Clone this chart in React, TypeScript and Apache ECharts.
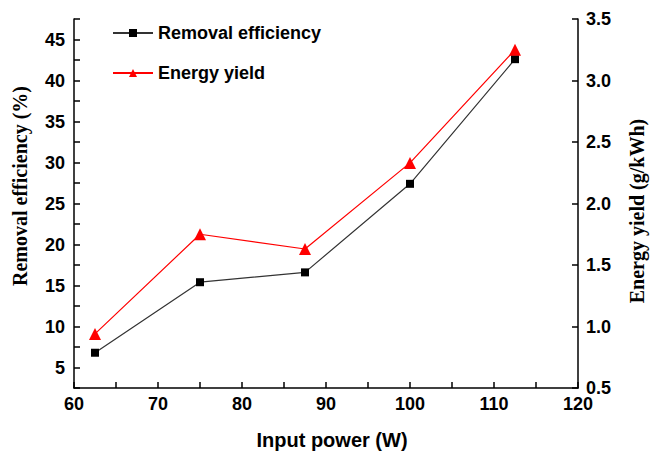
import React, { useEffect, useRef } from "react";
import * as echarts from "echarts";

const inputPower = [62.5, 75, 87.5, 100, 112.5];
const removalEfficiency = [6.8, 15.4, 16.6, 27.4, 42.6];
const energyYield = [0.94, 1.75, 1.63, 2.33, 3.25];

const SANS = "'Liberation Sans', Arial, sans-serif";
const SERIF = "'Liberation Serif', 'Times New Roman', serif";

export default function App() {
  const ref = useRef<HTMLDivElement>(null);
  useEffect(() => {
    if (!ref.current) return;
    const chart = echarts.init(ref.current, undefined, { renderer: "svg" });
    const axisLine = { show: true, lineStyle: { color: "#000", width: 1.5 } };
    const tickStyle = { show: true, inside: true, length: 6, lineStyle: { color: "#000", width: 1.5 } };
    const labelStyle = { color: "#000", fontFamily: SANS, fontWeight: "bold" as const, fontSize: 18 };
    chart.setOption({
      animation: false,
      backgroundColor: "#fff",
      grid: { left: 74, right: 72, top: 19, bottom: 65, containLabel: false },
      legend: {
        orient: "vertical",
        left: 107,
        top: 19,
        itemWidth: 40,
        itemHeight: 10,
        itemGap: 22,
        textStyle: { color: "#000", fontFamily: SANS, fontWeight: "bold", fontSize: 18 },
        data: ["Removal efficiency", "Energy yield"],
      },
      xAxis: {
        type: "value",
        min: 60,
        max: 120,
        interval: 5,
        axisLine,
        axisTick: tickStyle,
        splitLine: { show: false },
        axisLabel: {
          ...labelStyle,
          margin: 7,
          formatter: (v: number) => (v % 10 === 0 ? String(v) : ""),
        },
      },
      yAxis: [
        {
          type: "value",
          min: 2.5,
          max: 47.5,
          interval: 2.5,
          axisLine,
          axisTick: tickStyle,
          splitLine: { show: false },
          axisLabel: {
            ...labelStyle,
            margin: 9,
            formatter: (v: number) => (Math.abs(v % 5) < 1e-9 ? String(v) : ""),
          },
        },
        {
          type: "value",
          position: "right",
          min: 0.5,
          max: 3.5,
          interval: 0.5,
          axisLine,
          axisTick: tickStyle,
          splitLine: { show: false },
          axisLabel: {
            ...labelStyle,
            margin: 8,
            formatter: (v: number) => v.toFixed(1),
          },
        },
      ],
      graphic: [
        {
          type: "text",
          x: 20,
          y: 186,
          rotation: Math.PI / 2,
          style: {
            text: "Removal efficiency (%)",
            fill: "#000",
            font: `bold 20px ${SERIF}`,
            textAlign: "center",
            textVerticalAlign: "middle",
          },
        },
        {
          type: "text",
          x: 637,
          y: 211,
          rotation: Math.PI / 2,
          style: {
            text: "Energy yield (g/kWh)",
            fill: "#000",
            font: `bold 20px ${SERIF}`,
            textAlign: "center",
            textVerticalAlign: "middle",
          },
        },
        {
          type: "text",
          x: 332,
          y: 440,
          style: {
            text: "Input power (W)",
            fill: "#000",
            font: `bold 20px ${SANS}`,
            textAlign: "center",
            textVerticalAlign: "middle",
          },
        },
      ],
      series: [
        {
          name: "Removal efficiency",
          type: "line",
          yAxisIndex: 0,
          data: inputPower.map((x, i) => [x, removalEfficiency[i]]),
          symbol: "rect",
          symbolSize: 8,
          itemStyle: { color: "#000" },
          lineStyle: { color: "#333", width: 1.2 },
        },
        {
          name: "Energy yield",
          type: "line",
          yAxisIndex: 1,
          data: inputPower.map((x, i) => [x, energyYield[i]]),
          symbol: "triangle",
          symbolSize: 12,
          itemStyle: { color: "#ff0000" },
          lineStyle: { color: "#ff0000", width: 1.2 },
        },
      ],
    });
    return () => chart.dispose();
  }, []);
  return <div ref={ref} style={{ width: 650, height: 453, position: "absolute", left: 0, top: 0 }} />;
}
